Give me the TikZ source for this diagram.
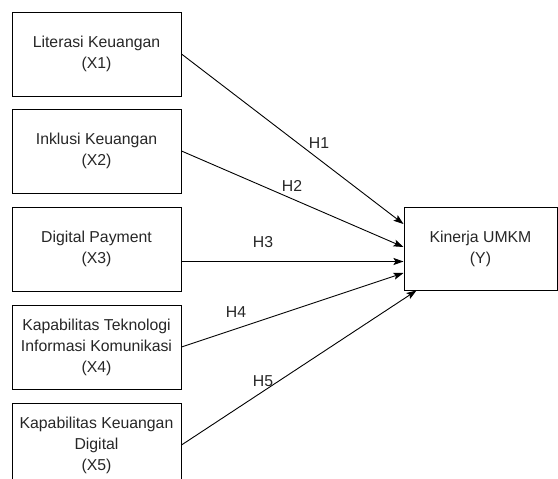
\documentclass[tikz,border=0pt]{standalone}
\usepackage{fontspec}
\setmainfont{Liberation Sans}
\usetikzlibrary{arrows.meta,calc}
\begin{document}
\begin{tikzpicture}[x=1pt,y=-1pt,
  varbox/.style={draw=black,line width=1pt,rectangle,minimum width=169pt,minimum height=84pt,align=center,inner sep=0pt,text=black!85,font=\fontsize{15.8pt}{21pt}\selectfont},
  ybox/.style={varbox,minimum width=153pt,minimum height=83pt},
  hyp/.style={draw=black,line width=0.9pt,-{Stealth[length=10pt,width=7pt,inset=2pt]}},
  hlabel/.style={font=\fontsize{15.8pt}{18pt}\selectfont,text=black!85,inner sep=0pt}]
\useasboundingbox (0,0) rectangle (558,479);
\node[varbox] (x1) at (96.5,54) {Literasi Keuangan\\(X1)};
\node[varbox] (x2) at (96.5,151) {Inklusi Keuangan\\(X2)};
\node[varbox] (x3) at (96.5,249) {Digital Payment\\(X3)};
\node[varbox] (x4) at (96.5,347) {Kapabilitas Teknologi\\Informasi Komunikasi\\(X4)};
\node[varbox] (x5) at (96.5,445) {Kapabilitas Keuangan\\Digital\\(X5)};
\node[ybox] (y) at (480.5,248.5) {Kinerja UMKM\\(Y)};
\draw[hyp] (x1.east) -- ([yshift=24.5pt]y.west);
\draw[hyp] (x2.east) -- ([yshift=1.5pt]y.west);
\draw[hyp] ([yshift=-12.5pt]x3.east) -- ([yshift=-13pt]y.west);
\draw[hyp] (x4.east) -- ([yshift=-24.5pt]y.west);
\draw[hyp] (x5.east) -- ([xshift=13pt]y.south west);
\node[hlabel] (h1) at (319,143) {H1};
\node[hlabel] (h2) at (292,186) {H2};
\node[hlabel] (h3) at (263,242) {H3};
\node[hlabel] (h4) at (236,312) {H4};
\node[hlabel] (h5) at (263,381) {H5};
\end{tikzpicture}
\end{document}
